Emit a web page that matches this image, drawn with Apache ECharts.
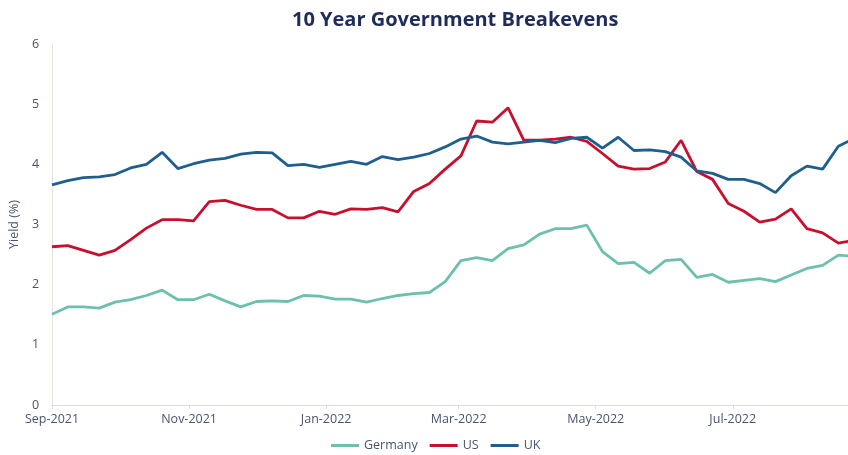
<!DOCTYPE html>
<html>
<head>
<meta charset="utf-8">
<script src="https://cdn.jsdelivr.net/npm/echarts@6/dist/echarts.min.js"></script>
<style>
  html, body { margin: 0; padding: 0; background: #fff; }
  #main { width: 848px; height: 455px; }
</style>
</head>
<body>
<div id="main"></div>
<script>
// weekly observations
var dates = [
	'2021-09-01', '2021-09-08', '2021-09-15', '2021-09-22', '2021-09-29',
	'2021-10-06', '2021-10-13', '2021-10-20', '2021-10-27',
	'2021-11-03', '2021-11-10', '2021-11-17', '2021-11-24',
	'2021-12-01', '2021-12-08', '2021-12-15', '2021-12-22', '2021-12-29',
	'2022-01-05', '2022-01-12', '2022-01-19', '2022-01-26',
	'2022-02-02', '2022-02-09', '2022-02-16', '2022-02-23',
	'2022-03-02', '2022-03-09', '2022-03-16', '2022-03-23', '2022-03-30',
	'2022-04-06', '2022-04-13', '2022-04-20', '2022-04-27',
	'2022-05-04', '2022-05-11', '2022-05-18', '2022-05-25',
	'2022-06-01', '2022-06-08', '2022-06-15', '2022-06-22', '2022-06-29',
	'2022-07-06', '2022-07-13', '2022-07-20', '2022-07-27',
	'2022-08-03', '2022-08-10', '2022-08-17', '2022-08-24'
];
var germany = [
	1.51, 1.63, 1.63, 1.61, 1.71, 1.75, 1.82, 1.91, 1.75, 1.75, 1.84, 1.73, 1.63,
	1.72, 1.73, 1.72, 1.82, 1.81, 1.76, 1.76, 1.71, 1.77, 1.82, 1.85, 1.87, 2.05,
	2.40, 2.45, 2.40, 2.60, 2.66, 2.84, 2.93, 2.93, 2.99, 2.55, 2.35, 2.37, 2.19,
	2.40, 2.42, 2.12, 2.17, 2.04, 2.07, 2.10, 2.05, 2.16, 2.27, 2.32, 2.49, 2.47
];
var us = [
	2.63, 2.65, 2.57, 2.49, 2.57, 2.75, 2.94, 3.08, 3.08, 3.06, 3.38, 3.40, 3.32,
	3.25, 3.25, 3.11, 3.11, 3.22, 3.17, 3.26, 3.25, 3.28, 3.21, 3.55, 3.68, 3.92,
	4.14, 4.72, 4.70, 4.94, 4.40, 4.40, 4.42, 4.45, 4.38, 4.18, 3.97, 3.92, 3.93,
	4.04, 4.40, 3.88, 3.75, 3.35, 3.22, 3.04, 3.09, 3.26, 2.93, 2.86, 2.69, 2.74
];
var uk = [
	3.66, 3.73, 3.78, 3.79, 3.83, 3.94, 4.00, 4.20, 3.93, 4.01, 4.07, 4.10, 4.17,
	4.20, 4.19, 3.98, 4.00, 3.95, 4.00, 4.05, 4.00, 4.13, 4.08, 4.12, 4.18, 4.29,
	4.42, 4.47, 4.37, 4.34, 4.37, 4.40, 4.36, 4.43, 4.45, 4.27, 4.45, 4.23, 4.24,
	4.21, 4.12, 3.89, 3.85, 3.75, 3.75, 3.68, 3.53, 3.81, 3.97, 3.92, 4.30, 4.43
];
// x axis labels every two months
var tickDates = ['2021-09-01', '2021-11-01', '2022-01-01', '2022-03-01', '2022-05-01', '2022-07-01'];
var monthNames = ['Jan', 'Feb', 'Mar', 'Apr', 'May', 'Jun', 'Jul', 'Aug', 'Sep', 'Oct', 'Nov', 'Dec'];

function toTime(s) {
	var p = s.split('-');
	return new Date(+p[0], +p[1] - 1, +p[2]).getTime();
}
function pairs(vals) {
	return vals.map(function(v, i) { return [toTime(dates[i]), v]; });
}

var labelColor = '#4a5470';
var font = 'Open Sans';

var myChart = echarts.init(document.getElementById('main'));
var option = {
	animation: false,
	backgroundColor: '#ffffff',
	title: {
		text: '10 Year Government Breakevens',
		left: 287,
		top: 5,
		textStyle: {
			color: '#1f2b5b',
			fontFamily: font,
			fontWeight: 'bold',
			fontSize: 20
		}
	},
	legend: {
		top: 434,
		left: 326,
		icon: 'rect',
		itemWidth: 28,
		itemHeight: 3,
		itemGap: 12,
		textStyle: {
			color: labelColor,
			fontFamily: font,
			fontSize: 12.5
		},
		data: ['Germany', 'US', 'UK']
	},
	grid: {
		left: 49,
		right: 0,
		top: 44,
		bottom: 50,
		containLabel: false
	},
	xAxis: {
		type: 'value',
		min: toTime('2021-09-01'),
		max: new Date(2022, 7, 21, 7).getTime(),
		splitLine: { show: false },
		axisLine: { lineStyle: { color: '#d9dbef', width: 1 } },
		axisTick: {
			show: true,
			length: 4,
			lineStyle: { color: '#d9dbef' },
			customValues: tickDates.map(toTime)
		},
		axisLabel: {
			color: labelColor,
			fontFamily: font,
			fontSize: 12.5,
			margin: 8,
			customValues: tickDates.map(toTime),
			formatter: function(val) {
				var d = new Date(val);
				return monthNames[d.getMonth()] + '-' + d.getFullYear();
			}
		}
	},
	yAxis: {
		type: 'value',
		min: 0,
		max: 6,
		interval: 1,
		name: 'Yield (%)',
		nameLocation: 'middle',
		nameGap: 21,
		nameTextStyle: {
			color: labelColor,
			fontFamily: font,
			fontSize: 12.5
		},
		splitLine: { show: false },
		axisLine: { show: true, lineStyle: { color: '#e6e3da', width: 1 } },
		axisTick: { show: false },
		axisLabel: {
			color: labelColor,
			fontFamily: font,
			fontSize: 12.5,
			margin: 13
		}
	},
	series: [{
		name: 'Germany',
		type: 'line',
		showSymbol: false,
		color: '#6cc0ac',
		lineStyle: { width: 2.8 },
		data: pairs(germany)
	}, {
		name: 'US',
		type: 'line',
		showSymbol: false,
		color: '#c8102e',
		lineStyle: { width: 2.8 },
		data: pairs(us)
	}, {
		name: 'UK',
		type: 'line',
		showSymbol: false,
		color: '#1f5f8e',
		lineStyle: { width: 2.8 },
		data: pairs(uk)
	}]
};
myChart.setOption(option);
</script>
</body>
</html>
